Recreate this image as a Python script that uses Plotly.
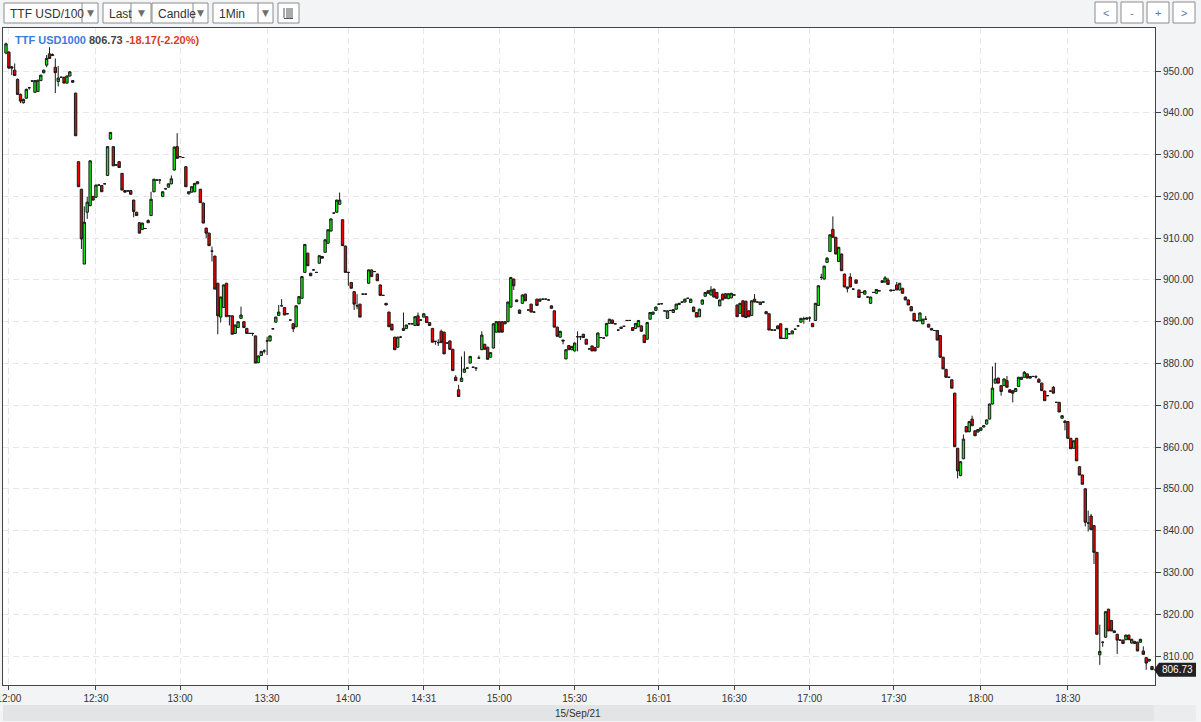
import plotly.graph_objects as go

# TTF USD1000, 1-minute candles, 15 Sep 2021 (one slot per traded minute)
opens = [
    954.3, 954.5, 951.0, 950.2, 948.0, 944.4, 942.4, 943.5, 946.0, 947.6,
    944.9, 945.1, 947.7, 949.6, 951.4, 954.1, 953.7, 950.9, 947.5, 948.5,
    948.5, 947.1, 948.8, 947.7, 944.7, 928.3, 921.7, 903.8, 916.2, 917.8,
    920.0, 919.8, 922.7, 922.6, 923.0, 925.0, 933.7, 931.9, 927.5, 928.3,
    925.5, 921.4, 921.3, 921.4, 919.1, 916.2, 913.7, 912.1, 912.3, 913.7,
    915.4, 921.1, 923.9, 923.9, 920.0, 921.8, 922.2, 923.0, 926.3, 931.9,
    929.5, 929.3, 927.1, 920.6, 921.0, 921.1, 923.5, 921.7, 918.4, 912.4,
    911.2, 906.9, 905.7, 899.2, 891.1, 893.4, 899.2, 891.4, 891.4, 887.2,
    888.6, 890.8, 890.0, 888.4, 887.2, 887.2, 886.6, 880.2, 881.9, 883.0,
    885.4, 885.4, 888.3, 889.9, 891.5, 893.8, 893.4, 891.9, 890.4, 889.5,
    888.8, 894.3, 895.6, 901.8, 906.4, 901.6, 902.4, 901.8, 904.0, 905.6,
    906.6, 908.8, 911.7, 916.0, 916.2, 918.1, 914.4, 908.1, 901.8, 899.4,
    897.2, 893.8, 894.2, 896.6, 896.6, 899.2, 902.4, 902.0, 901.4, 898.8,
    896.3, 894.4, 892.3, 889.4, 886.3, 883.9, 886.3, 887.9, 888.4, 889.5,
    889.5, 889.1, 891.4, 890.4, 891.1, 891.2, 889.8, 888.4, 885.3, 885.0,
    887.7, 887.5, 884.9, 885.4, 883.4, 876.7, 873.7, 875.7, 877.9, 878.9,
    880.1, 879.1, 878.9, 881.3, 883.3, 884.6, 883.9, 881.5, 883.7, 887.5,
    890.0, 890.0, 889.5, 890.0, 893.5, 900.2, 894.8, 892.8, 894.4, 896.6,
    892.8, 894.2, 892.3, 895.4, 894.9, 895.4, 895.4, 895.2, 893.8, 892.6,
    888.7, 886.3, 885.6, 881.1, 884.3, 883.3, 883.0, 886.4, 886.4, 887.0,
    885.8, 883.5, 884.2, 883.8, 883.9, 886.2, 886.1, 886.6, 889.6, 890.4,
    889.5, 888.0, 888.7, 888.9, 890.3, 890.3, 888.6, 888.4, 888.8, 889.0,
    886.8, 885.8, 890.6, 891.8, 892.7, 894.2, 894.3, 892.6, 890.8, 892.7,
    892.2, 893.0, 894.1, 894.7, 894.7, 895.6, 894.6, 893.5, 892.2, 891.2,
    894.2, 896.1, 897.4, 896.4, 897.8, 897.0, 893.8, 896.6, 896.7, 895.5,
    895.7, 896.4, 894.0, 892.0, 895.0, 894.9, 892.6, 891.5, 895.4, 894.7,
    894.1, 894.7, 892.4, 891.9, 888.0, 888.0, 889.0, 889.5, 886.0, 886.0,
    887.1, 887.1, 888.2, 889.0, 889.9, 890.7, 890.6, 890.9, 889.6, 890.3,
    893.9, 900.6, 900.2, 904.2, 906.8, 912.1, 910.2, 904.4, 906.2, 901.4,
    897.9, 900.7, 897.8, 900.0, 897.6, 897.0, 896.6, 895.9, 894.4, 897.0,
    896.8, 897.4, 899.4, 899.5, 900.0, 897.6, 897.5, 898.8, 897.6, 898.0,
    895.9, 895.2, 893.6, 892.0, 890.2, 890.2, 889.5, 890.6, 889.4, 888.4,
    887.9, 887.9, 886.7, 881.5, 878.6, 876.7, 876.1, 872.9, 859.7, 853.2,
    857.2, 864.9, 863.7, 866.7, 863.9, 863.6, 864.0, 864.8, 865.5, 866.7,
    870.3, 875.3, 876.5, 874.7, 874.7, 875.9, 873.7, 873.5, 873.3, 874.5,
    876.2, 876.7, 877.5, 876.5, 876.9, 876.8, 876.2, 875.3, 873.4, 872.3,
    873.4, 874.3, 870.7, 870.7, 866.9, 866.2, 866.1, 862.1, 859.7, 862.1,
    855.3, 853.3, 850.0, 841.8, 843.5, 841.2, 834.8, 810.3, 813.3, 814.5,
    821.2, 818.5, 815.6, 815.2, 813.8, 813.8, 813.9, 815.0, 813.1, 813.0,
    813.3, 813.3, 811.2, 809.6, 808.8, 807.5,
]
highs = [
    956.8, 954.8, 951.2, 951.8, 948.2, 944.6, 943.4, 945.8, 946.2, 947.7,
    947.8, 947.9, 949.1, 950.3, 953.8, 955.7, 954.2, 953.0, 951.2, 948.6,
    948.6, 948.9, 950.0, 947.8, 944.8, 928.4, 921.8, 917.6, 919.9, 928.6,
    920.1, 922.8, 922.8, 922.7, 923.1, 932.0, 935.4, 932.0, 927.6, 928.4,
    925.6, 921.5, 921.4, 921.5, 919.2, 916.3, 913.8, 913.7, 912.4, 914.5,
    921.1, 924.2, 924.0, 924.0, 921.2, 921.9, 923.1, 925.0, 931.9, 935.1,
    929.6, 929.4, 927.2, 921.2, 922.4, 923.2, 923.6, 921.8, 918.5, 912.5,
    911.3, 908.0, 905.8, 899.3, 896.0, 898.9, 899.3, 891.5, 891.5, 889.3,
    890.1, 893.6, 890.1, 888.5, 887.3, 887.3, 886.7, 881.9, 883.0, 883.4,
    886.4, 886.7, 888.4, 891.2, 894.0, 895.4, 893.5, 892.0, 890.5, 889.6,
    893.9, 896.1, 900.9, 908.6, 906.5, 901.7, 902.5, 901.9, 905.9, 905.7,
    909.7, 912.1, 914.7, 916.1, 919.2, 920.9, 914.5, 908.2, 901.9, 899.5,
    897.3, 896.6, 894.3, 896.7, 896.7, 902.5, 902.5, 902.1, 901.5, 898.9,
    896.4, 894.5, 892.4, 889.5, 886.4, 886.4, 886.6, 892.2, 889.3, 889.6,
    889.6, 891.3, 892.2, 890.5, 892.0, 891.3, 889.9, 888.5, 885.4, 885.8,
    888.1, 887.6, 885.0, 885.5, 883.5, 877.2, 874.9, 881.7, 882.9, 879.0,
    881.8, 879.2, 879.0, 881.9, 887.7, 884.7, 884.0, 882.7, 889.6, 890.1,
    890.1, 890.1, 890.1, 894.8, 900.7, 900.3, 895.3, 892.9, 896.5, 896.7,
    892.9, 894.3, 892.4, 895.5, 895.5, 895.5, 895.5, 895.3, 893.9, 892.7,
    888.8, 887.8, 885.7, 883.4, 884.4, 884.2, 885.0, 887.7, 886.5, 887.1,
    885.9, 883.6, 884.3, 883.9, 887.4, 886.3, 886.2, 889.7, 890.7, 890.5,
    889.6, 888.1, 888.8, 889.0, 890.4, 890.4, 888.7, 889.7, 890.4, 889.1,
    886.9, 889.9, 892.3, 892.4, 893.6, 894.3, 894.4, 892.7, 892.7, 892.8,
    893.0, 894.3, 894.5, 894.8, 895.5, 895.7, 895.5, 893.6, 892.3, 893.1,
    895.3, 897.1, 897.5, 898.5, 897.9, 897.1, 895.3, 896.7, 896.8, 896.8,
    896.9, 896.5, 894.1, 894.5, 895.1, 895.0, 892.7, 895.1, 896.6, 894.8,
    894.8, 894.8, 892.5, 892.0, 888.1, 888.1, 889.1, 889.6, 886.1, 888.5,
    887.2, 887.9, 888.3, 889.1, 890.9, 891.2, 891.0, 891.3, 889.7, 894.5,
    898.7, 901.5, 903.4, 905.5, 910.9, 915.2, 910.3, 907.9, 906.3, 901.5,
    898.4, 901.6, 897.9, 900.1, 897.7, 897.1, 897.5, 896.0, 896.0, 897.1,
    897.8, 897.5, 899.9, 900.9, 900.5, 897.7, 897.6, 899.5, 899.3, 898.1,
    896.0, 895.3, 893.7, 892.1, 890.3, 892.2, 890.7, 891.4, 889.5, 888.5,
    888.0, 888.0, 886.8, 881.6, 878.7, 876.8, 876.2, 873.0, 859.8, 856.6,
    863.0, 865.0, 866.2, 867.5, 864.0, 864.3, 864.7, 865.2, 866.6, 870.4,
    879.3, 880.2, 876.6, 874.8, 876.4, 877.0, 873.8, 873.6, 874.1, 876.8,
    876.8, 878.2, 877.6, 877.0, 877.0, 877.2, 876.5, 875.4, 873.5, 872.4,
    873.5, 874.6, 870.8, 870.8, 867.6, 866.5, 866.2, 862.2, 861.6, 862.2,
    855.4, 853.4, 850.1, 844.8, 844.0, 841.3, 834.9, 817.5, 813.4, 820.7,
    821.3, 818.6, 816.1, 815.3, 813.9, 813.9, 815.1, 815.1, 814.1, 813.6,
    813.4, 814.1, 812.3, 809.7, 809.3, 807.6,
]
lows = [
    954.0, 950.5, 949.0, 948.9, 944.4, 942.3, 942.2, 943.3, 945.5, 947.5,
    944.8, 945.0, 947.6, 949.4, 950.9, 953.0, 953.6, 944.7, 946.3, 948.4,
    947.1, 947.0, 948.7, 947.3, 934.5, 922.3, 907.4, 903.8, 914.6, 917.6,
    919.1, 919.6, 922.6, 921.1, 922.9, 924.9, 933.6, 927.3, 927.4, 926.9,
    921.5, 921.0, 921.2, 920.5, 915.0, 915.4, 911.2, 911.9, 912.2, 913.6,
    915.3, 921.0, 923.8, 923.0, 919.8, 921.7, 922.1, 922.9, 926.2, 929.1,
    929.4, 929.2, 922.3, 920.5, 920.9, 921.0, 923.0, 918.5, 913.6, 910.0,
    908.2, 904.4, 897.8, 887.0, 889.8, 893.3, 891.2, 889.1, 887.0, 887.1,
    888.5, 890.7, 888.6, 887.2, 887.1, 886.6, 880.1, 880.1, 881.8, 882.4,
    882.0, 885.3, 888.2, 889.8, 891.4, 893.7, 891.6, 891.8, 890.3, 887.5,
    888.7, 894.2, 895.5, 901.7, 903.4, 901.0, 902.3, 901.7, 903.9, 905.2,
    906.5, 908.7, 911.6, 915.9, 916.1, 918.0, 908.2, 901.8, 898.6, 898.0,
    892.8, 893.0, 891.1, 896.5, 896.5, 899.1, 900.8, 901.9, 899.8, 896.3,
    896.2, 894.0, 888.8, 888.0, 883.3, 883.8, 886.2, 887.8, 888.3, 889.4,
    889.4, 889.0, 889.1, 890.3, 891.0, 889.8, 889.1, 885.1, 884.5, 884.2,
    885.0, 882.3, 884.8, 883.4, 878.3, 875.9, 872.1, 875.6, 877.8, 878.8,
    880.0, 879.0, 878.2, 881.2, 883.2, 883.4, 881.0, 881.4, 883.6, 887.4,
    887.5, 887.5, 889.4, 889.9, 893.4, 897.6, 894.7, 892.0, 894.3, 895.0,
    892.7, 892.3, 892.2, 893.9, 894.8, 895.3, 895.3, 895.1, 893.2, 888.7,
    886.5, 886.2, 884.6, 881.0, 883.3, 883.2, 882.9, 882.9, 885.6, 886.2,
    884.6, 883.4, 883.0, 883.0, 883.8, 886.1, 886.0, 886.5, 889.5, 889.6,
    889.4, 887.9, 888.4, 888.8, 890.2, 890.2, 887.9, 888.3, 888.7, 887.7,
    885.0, 885.7, 890.5, 891.7, 892.6, 894.1, 894.2, 892.5, 890.7, 892.6,
    892.1, 892.9, 894.0, 894.6, 894.6, 895.5, 894.5, 892.4, 891.1, 891.1,
    894.1, 896.0, 896.8, 896.3, 895.9, 895.6, 893.7, 895.2, 895.6, 895.4,
    895.6, 896.3, 891.2, 891.9, 891.2, 891.0, 891.2, 891.4, 894.7, 894.6,
    894.0, 894.6, 891.9, 888.0, 887.9, 887.9, 888.3, 886.0, 885.9, 885.9,
    887.0, 887.0, 888.1, 888.9, 889.8, 889.5, 890.5, 890.0, 888.8, 890.2,
    893.8, 900.0, 900.1, 904.1, 906.7, 910.2, 906.2, 904.3, 902.2, 898.3,
    897.0, 898.3, 897.7, 899.2, 895.8, 896.9, 896.5, 895.8, 894.3, 896.9,
    896.7, 897.3, 899.3, 899.4, 898.9, 897.4, 897.4, 897.6, 897.5, 896.8,
    895.2, 894.0, 892.6, 890.2, 890.1, 890.1, 889.4, 890.5, 888.7, 888.0,
    887.8, 885.6, 881.5, 878.7, 876.7, 876.6, 874.1, 860.1, 852.5, 853.0,
    857.1, 863.6, 863.5, 865.1, 862.7, 863.5, 863.9, 864.7, 865.4, 866.6,
    870.2, 875.2, 875.3, 872.3, 874.6, 874.3, 873.1, 870.7, 873.2, 874.4,
    876.1, 876.6, 876.5, 876.4, 876.8, 876.4, 875.5, 873.5, 871.1, 872.2,
    873.3, 872.9, 870.6, 868.4, 866.8, 864.0, 862.1, 859.6, 859.6, 856.7,
    853.3, 851.1, 841.0, 839.8, 840.2, 832.0, 815.2, 807.9, 812.2, 814.4,
    816.0, 816.0, 815.5, 810.5, 813.7, 813.0, 813.8, 813.9, 813.0, 812.9,
    811.2, 813.2, 810.4, 806.7, 808.7, 806.7,
]
closes = [
    956.5, 950.7, 950.7, 948.9, 944.4, 942.8, 943.2, 945.6, 946.0, 947.6,
    947.7, 947.8, 949.0, 950.2, 953.0, 953.0, 953.9, 949.6, 948.3, 948.5,
    947.1, 948.8, 949.8, 947.3, 934.5, 922.3, 909.8, 913.8, 918.6, 928.5,
    919.1, 922.7, 922.7, 921.1, 923.0, 931.9, 935.3, 927.3, 927.5, 926.9,
    921.5, 921.0, 921.3, 920.5, 916.4, 915.4, 911.2, 913.6, 912.3, 914.2,
    919.3, 924.1, 923.9, 923.9, 921.1, 921.8, 923.0, 924.2, 931.8, 929.1,
    929.5, 929.3, 922.3, 921.1, 922.3, 923.1, 923.0, 918.5, 913.6, 911.2,
    908.2, 906.9, 897.8, 891.4, 895.9, 898.8, 891.2, 891.4, 887.0, 889.2,
    890.0, 891.6, 888.6, 887.2, 887.2, 887.2, 880.1, 881.8, 882.9, 883.0,
    885.4, 886.6, 888.3, 891.1, 892.3, 893.8, 891.6, 891.9, 890.4, 888.3,
    893.8, 896.0, 900.8, 908.5, 903.4, 901.0, 902.4, 901.8, 905.8, 905.2,
    909.6, 912.0, 914.6, 916.0, 919.1, 919.1, 908.2, 901.8, 901.8, 898.0,
    894.2, 893.8, 891.1, 896.6, 896.6, 902.4, 900.8, 902.0, 899.8, 896.3,
    896.3, 894.0, 888.8, 888.0, 883.3, 886.3, 886.3, 888.4, 889.2, 889.5,
    889.5, 891.2, 889.1, 890.4, 891.9, 889.8, 889.1, 885.1, 885.3, 885.0,
    885.0, 882.3, 884.9, 883.4, 878.3, 875.9, 872.1, 876.5, 878.7, 878.9,
    881.7, 879.1, 878.9, 881.3, 886.8, 883.4, 881.0, 882.6, 889.5, 890.0,
    887.5, 887.5, 890.0, 894.7, 900.6, 898.6, 895.2, 892.0, 896.4, 895.0,
    892.8, 892.3, 892.3, 893.9, 895.4, 895.4, 895.4, 895.2, 893.2, 888.7,
    886.5, 887.7, 885.4, 883.3, 883.3, 884.1, 884.9, 886.4, 886.4, 886.2,
    884.6, 883.5, 883.0, 883.0, 887.3, 886.2, 886.1, 889.6, 890.6, 889.6,
    889.5, 888.0, 888.4, 888.9, 890.3, 890.3, 887.9, 889.6, 890.3, 887.7,
    885.0, 889.8, 892.2, 892.3, 893.5, 894.2, 894.3, 892.6, 892.6, 892.7,
    892.9, 894.2, 894.4, 894.7, 895.4, 895.6, 895.4, 892.4, 891.1, 893.0,
    895.2, 897.0, 896.8, 897.6, 895.9, 895.6, 895.2, 895.2, 895.6, 896.7,
    896.8, 896.4, 891.2, 894.4, 891.2, 891.0, 891.2, 895.0, 894.7, 894.7,
    894.7, 894.7, 891.9, 888.0, 888.0, 888.0, 888.3, 886.0, 886.0, 888.4,
    887.1, 887.8, 888.2, 889.0, 890.8, 890.7, 890.9, 890.9, 888.8, 894.4,
    898.6, 900.6, 903.3, 905.2, 910.8, 910.2, 906.2, 907.8, 902.2, 898.3,
    898.3, 898.3, 897.8, 899.2, 895.8, 897.0, 897.4, 895.9, 895.9, 897.0,
    897.7, 897.4, 899.8, 900.5, 898.9, 897.4, 897.5, 897.6, 899.2, 896.8,
    895.2, 894.0, 892.6, 890.2, 890.2, 892.1, 890.6, 890.6, 888.7, 888.0,
    887.9, 885.6, 881.5, 878.7, 876.7, 876.7, 874.1, 860.1, 854.3, 856.5,
    861.9, 863.6, 866.1, 865.1, 862.7, 864.2, 864.6, 865.1, 866.5, 870.3,
    874.1, 876.3, 875.3, 873.3, 876.3, 874.3, 873.1, 872.9, 874.0, 876.7,
    876.7, 877.9, 876.5, 876.9, 876.9, 876.8, 875.5, 873.5, 871.1, 872.3,
    873.4, 872.9, 870.7, 868.4, 867.5, 865.9, 862.1, 859.6, 861.5, 856.7,
    853.3, 851.1, 842.0, 841.8, 840.2, 834.8, 815.2, 811.1, 813.3, 820.6,
    816.0, 816.0, 816.0, 813.8, 813.8, 813.0, 815.0, 813.9, 814.0, 813.5,
    811.2, 814.0, 810.4, 808.3, 809.2, 806.73,
]

# time labels sit on the first bar of each half hour
tick_bars = [1, 31, 60, 90, 118, 144, 170, 196, 225, 251, 277, 306, 336, 366]
tick_text = ["12:00", "12:30", "13:00", "13:30", "14:00", "14:31", "15:00",
             "15:30", "16:01", "16:30", "17:00", "17:30", "18:00", "18:30"]
price_ticks = [810, 820, 830, 840, 850, 860, 870, 880, 890, 900, 910, 920, 930, 940, 950]

symbol = "TTF USD1000"
last_price = closes[-1]
change = -18.17
change_pct = -2.20
date_label = "15/Sep/21"

W, H = 1201, 722
L, R, T, B = 3, 1155, 28, 685


def px(x):
    return (x - L) / (R - L)


def py(y):
    return (B - y) / (B - T)


bars = list(range(len(opens)))

fig = go.Figure(go.Candlestick(
    x=bars, open=opens, high=highs, low=lows, close=closes,
    increasing=dict(line=dict(color="#1a1a1a", width=1), fillcolor="#14e614"),
    decreasing=dict(line=dict(color="#1a1a1a", width=1), fillcolor="#ee0000"),
    whiskerwidth=0, hoverinfo="skip", showlegend=False,
))

axis_font = dict(family="Liberation Sans, Arial", size=10, color="#333333")
fig.update_layout(
    width=W, height=H,
    margin=dict(l=L, r=W - R, t=T, b=H - B),
    paper_bgcolor="#f3f4f6", plot_bgcolor="white",
    boxgap=0.18, boxgroupgap=0,
    showlegend=False,
    xaxis=dict(
        range=[-1.03, len(bars) - 1 + 1.03], rangeslider=dict(visible=False),
        tickmode="array", tickvals=tick_bars, ticktext=tick_text,
        ticks="outside", ticklen=4, tickcolor="#444444", tickfont=axis_font,
        ticklabeloverflow="allow", automargin=False,
        showgrid=True, gridcolor="#e6e6e6", griddash="6px,4px", gridwidth=1,
        showline=True, linecolor="#444444", linewidth=1, mirror=True,
        zeroline=False, fixedrange=True,
    ),
    yaxis=dict(
        side="right", range=[803.06, 960.29], automargin=False,
        tickmode="array", tickvals=price_ticks, tickformat=".2f",
        ticks="outside", ticklen=5, tickcolor="#444444", tickfont=axis_font,
        showgrid=True, gridcolor="#e6e6e6", griddash="6px,4px", gridwidth=1,
        showline=True, linecolor="#444444", linewidth=1, mirror=True,
        zeroline=False, fixedrange=True,
    ),
)

shapes = []
annotations = []

# header with symbol and last change
chg_color = "#e0391d" if change < 0 else "#16a016"
annotations.append(dict(
    xref="paper", yref="paper", x=px(13), y=py(40), xanchor="left", yanchor="middle",
    showarrow=False, font=dict(family="Liberation Sans, Arial", size=11),
    text=(f"<b><span style='color:#3b7be0'>{symbol}</span> "
          f"<span style='color:#444444'>{last_price:.2f}</span> "
          f"<span style='color:{chg_color}'>{change:.2f}({change_pct:.2f}%)</span></b>"),
))

# toolbar drop-downs: (left, right, arrow-split, label as shown)
toolbar = [(4, 98, 82, "TTF USD/100"), (103, 151, 131, "Last"),
           (152, 208, 193, "Candle"), (213, 273, 258, "1Min")]
tb_top, tb_bot = 3, 23
for x0, x1, xs, label in toolbar:
    shapes.append(dict(type="rect", xref="paper", yref="paper",
                       x0=px(x0), x1=px(x1), y0=py(tb_bot), y1=py(tb_top),
                       line=dict(color="#8c8c8c", width=1), fillcolor="white", layer="below"))
    shapes.append(dict(type="line", xref="paper", yref="paper",
                       x0=px(xs), x1=px(xs), y0=py(tb_bot), y1=py(tb_top),
                       line=dict(color="#8c8c8c", width=1)))
    annotations.append(dict(xref="paper", yref="paper", x=px(x0 + 4), y=py(13.5),
                            xanchor="left", yanchor="middle", showarrow=False, text=label,
                            font=dict(family="Liberation Sans, Arial", size=12, color="#333333")))
    annotations.append(dict(xref="paper", yref="paper", x=px((xs + x1) / 2), y=py(13),
                            xanchor="center", yanchor="middle", showarrow=False, text="▼",
                            font=dict(family="DejaVu Sans", size=9, color="#6e6e6e")))

# table icon button
shapes.append(dict(type="rect", xref="paper", yref="paper", x0=px(278), x1=px(299),
                   y0=py(tb_bot), y1=py(tb_top), line=dict(color="#8c8c8c", width=1),
                   fillcolor="white", layer="below"))
shapes.append(dict(type="line", xref="paper", yref="paper", x0=px(284), x1=px(284),
                   y0=py(18), y1=py(8), line=dict(color="#555555", width=1)))
for yy in (9, 11, 13, 15, 17):
    shapes.append(dict(type="line", xref="paper", yref="paper", x0=px(286), x1=px(293),
                       y0=py(yy), y1=py(yy), line=dict(color="#555555", width=1)))
shapes.append(dict(type="line", xref="paper", yref="paper", x0=px(284), x1=px(293),
                   y0=py(18.5), y1=py(18.5), line=dict(color="#555555", width=1)))

# navigation buttons at top right
for x0, sym in [(1095, "<"), (1121, "-"), (1147, "+"), (1173, ">")]:
    shapes.append(dict(type="rect", xref="paper", yref="paper", x0=px(x0), x1=px(x0 + 22),
                       y0=py(23), y1=py(2), line=dict(color="#8c8c8c", width=1),
                       fillcolor="white", layer="below"))
    annotations.append(dict(xref="paper", yref="paper", x=px(x0 + 11), y=py(12.5),
                            xanchor="center", yanchor="middle", showarrow=False, text=sym,
                            font=dict(family="Liberation Sans, Arial", size=11, color="#5b7aa8")))

# last price marker on the price scale
half = 7 / ((B - T) / (960.29 - 803.06))
shapes.append(dict(
    type="path", xref="paper", yref="y", layer="above",
    path=(f"M {px(1154)},{last_price} L {px(1159)},{last_price + half} "
          f"L {px(1196)},{last_price + half} L {px(1196)},{last_price - half} "
          f"L {px(1159)},{last_price - half} Z"),
    fillcolor="#222222", line=dict(width=0),
))
annotations.append(dict(xref="paper", yref="y", x=px(1177.5), y=last_price,
                        xanchor="center", yanchor="middle", showarrow=False,
                        text=f"{last_price:.2f}",
                        font=dict(family="Liberation Sans, Arial", size=10, color="white")))

# date strip under the time axis
shapes.append(dict(type="rect", xref="paper", yref="paper", x0=px(3), x1=px(1154),
                   y0=py(721), y1=py(705), fillcolor="#e3e4e6", line=dict(width=0), layer="below"))
shapes.append(dict(type="rect", xref="paper", yref="paper", x0=px(1154), x1=px(1196),
                   y0=py(721), y1=py(705), fillcolor="#ebecee", line=dict(width=0), layer="below"))
annotations.append(dict(xref="paper", yref="paper", x=px(578), y=py(713),
                        xanchor="center", yanchor="middle", showarrow=False, text=date_label,
                        font=dict(family="Liberation Sans, Arial", size=10, color="#333333")))

fig.update_layout(shapes=shapes, annotations=annotations)
# page body margin would shift the whole figure by 8px; no plotly modebar
fig.write_html("out.html", config={"displayModeBar": False},
               post_script="document.body.style.margin='0';")
